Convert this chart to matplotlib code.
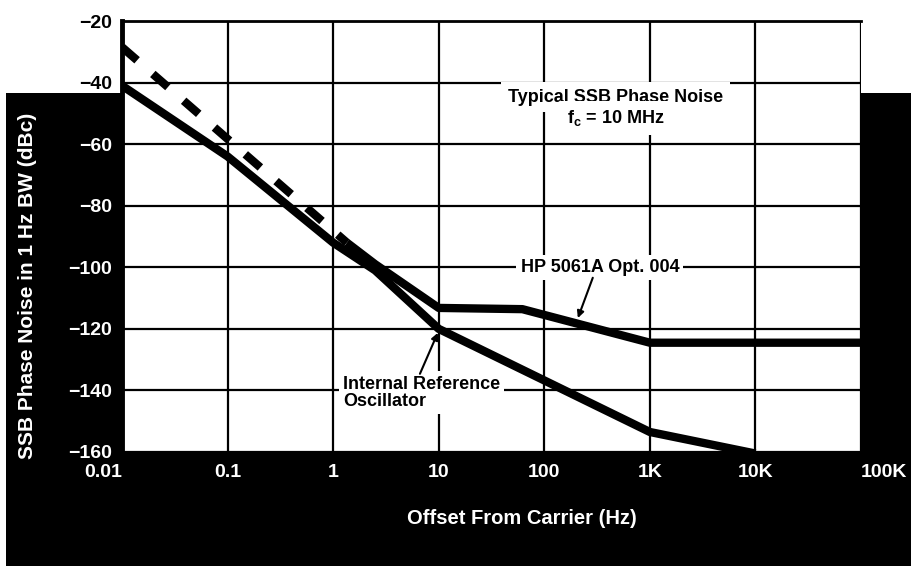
import matplotlib
matplotlib.use('Agg')
import matplotlib.pyplot as plt
from matplotlib.patches import Rectangle
from matplotlib.ticker import NullLocator

plt.rcParams['font.family'] = ['Liberation Sans', 'DejaVu Sans']
plt.rcParams['font.weight'] = 'bold'
plt.rcParams['mathtext.fontset'] = 'custom'
plt.rcParams['mathtext.rm'] = 'Liberation Sans:bold'
plt.rcParams['mathtext.it'] = 'Liberation Sans:bold'
plt.rcParams['mathtext.bf'] = 'Liberation Sans:bold'
plt.rcParams['mathtext.default'] = 'it'

# axes ticks
freq_ticks = [0.01, 0.1, 1, 10, 100, 1e3, 1e4, 1e5]
freq_labels = ['0.01', '0.1', '1', '10', '100', '1K', '10K', '100K']
dbc_ticks = [-20, -40, -60, -80, -100, -120, -140, -160]
dbc_labels = ['\u221220', '\u221240', '\u221260', '\u221280',
              '\u2212100', '\u2212120', '\u2212140', '\u2212160']

# HP 5061A Opt. 004 (dashed part at low offsets, then solid)
hp_dash_f = [0.01, 1.35]
hp_dash_db = [-28.5, -92]
hp_f = [1.35, 2.5, 10, 62, 1000, 100000]
hp_db = [-92, -99, -113.2, -113.6, -124.5, -124.5]

# Internal reference oscillator
iro_f = [0.01, 0.1, 1, 2.5, 10, 1000, 10000]
iro_db = [-41, -64, -92, -101, -120, -153.5, -160.5]

fig = plt.figure(figsize=(9.11, 5.66), dpi=100, facecolor='black')
# white paper strip above the black band
fig.patches.append(Rectangle((0, 1 - 93 / 566), 1, 93 / 566, transform=fig.transFigure,
                             facecolor='white', edgecolor='none', zorder=-10))
fig.patches.append(Rectangle((0, 0), 6 / 911, 1, transform=fig.transFigure,
                             facecolor='white', edgecolor='none', zorder=-10))

ax = fig.add_axes([122 / 911, 1 - 452 / 566, (861 - 122) / 911, (452 - 21) / 566])
ax.set_facecolor('white')
ax.set_xscale('log')
ax.set_xlim(0.01, 1e5)
ax.set_ylim(-160, -20)
ax.set_xticks(freq_ticks)
ax.set_xticklabels(freq_labels)
ax.xaxis.set_minor_locator(NullLocator())
ax.set_yticks(dbc_ticks)
ax.set_yticklabels(dbc_labels)
ax.grid(True, color='black', lw=1.6)
ax.tick_params(axis='both', length=0, labelsize=14, colors='white')
ax.tick_params(axis='x', pad=8.5)
ax.tick_params(axis='y', pad=7)

for lbl, v in zip(ax.get_yticklabels(), dbc_ticks):
    lbl.set_color('black' if v >= -40 else 'white')
xl = ax.get_xticklabels()
xl[0].set_ha('right')
xl[-1].set_ha('left')

for side in ['right', 'bottom']:
    ax.spines[side].set_visible(False)
ax.spines['left'].set_linewidth(3.5)
ax.spines['top'].set_linewidth(2)

ax.plot(iro_f, iro_db, color='black', lw=6, solid_capstyle='butt',
        solid_joinstyle='round', zorder=3)
ax.plot(hp_f, hp_db, color='black', lw=6, solid_capstyle='butt',
        solid_joinstyle='round', zorder=3)
ax.plot(hp_dash_f, hp_dash_db, color='black', lw=6, dashes=(2.4, 2.5),
        dash_capstyle='butt', zorder=3)

box = dict(facecolor='white', edgecolor='none', pad=3)
ax.text(476, -44.7, 'Typical SSB Phase Noise', ha='center', va='center',
        fontsize=13, color='black', bbox=dict(facecolor='white', edgecolor='none', pad=5), zorder=4)
ax.text(476, -51.5, r'f$_{c}$ = 10 MHz', ha='center', va='center',
        fontsize=13, color='black', bbox=dict(facecolor='white', edgecolor='none', pad=5), zorder=4)

ax.text(336, -100, 'HP 5061A Opt. 004', ha='center', va='center', fontsize=13,
        color='black', bbox=box, zorder=4)
ax.annotate('', xy=(208, -116.5), xytext=(288, -103.4),
            arrowprops=dict(arrowstyle='-|>', color='black', lw=1.5,
                            mutation_scale=10, shrinkA=0, shrinkB=0), zorder=4)

ax.text(1.24, -140.8, 'Internal Reference\nOscillator', ha='left', va='center',
        fontsize=13, linespacing=1.05, color='black', bbox=box, zorder=4)
ax.annotate('', xy=(9.8, -121.3), xytext=(6.64, -134.6),
            arrowprops=dict(arrowstyle='-|>', color='black', lw=1.5,
                            mutation_scale=10, shrinkA=0, shrinkB=0), zorder=4)

fig.text(522 / 911, 1 - 519 / 566, 'Offset From Carrier (Hz)', color='white',
         fontsize=14.5, ha='center', va='center')
fig.text(28 / 911, 1 - 286 / 566, 'SSB Phase Noise in 1 Hz BW (dBc)', color='white',
         fontsize=15, ha='center', va='center', rotation=90)

fig.savefig('out.png', dpi=100, facecolor='black')
